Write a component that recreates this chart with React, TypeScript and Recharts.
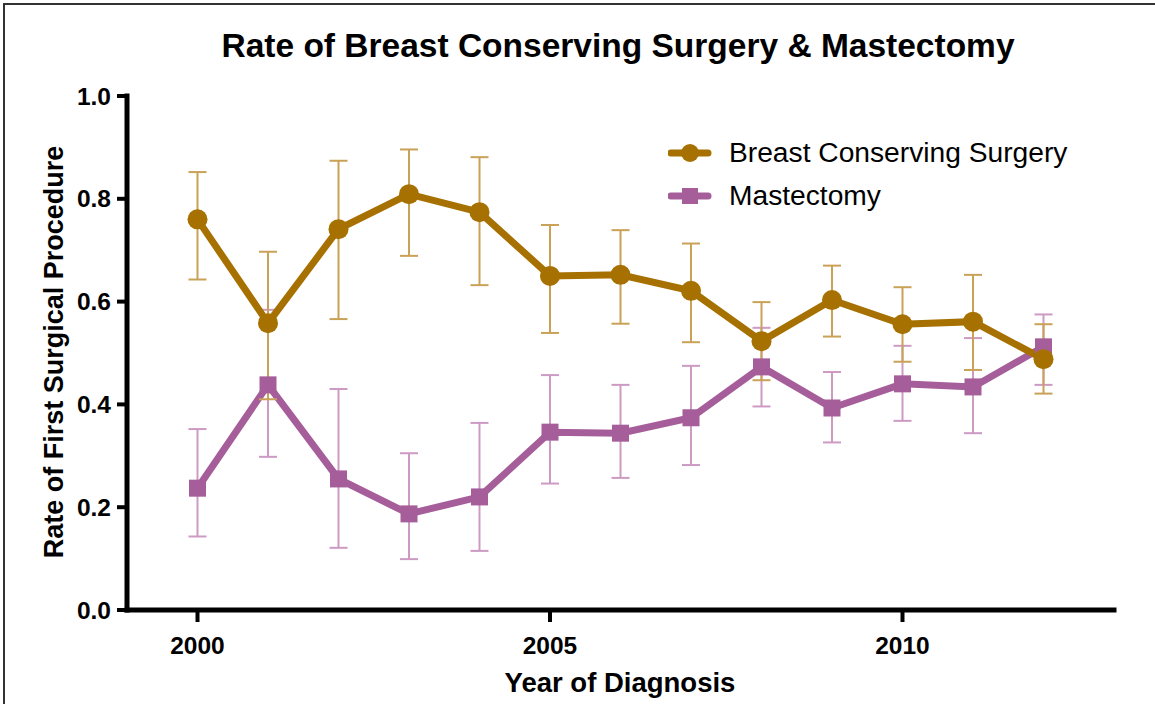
import React from 'react';
import { LineChart, Line, XAxis, YAxis, ErrorBar, Legend } from 'recharts';

const FONT = "'Liberation Sans', Arial, Helvetica, sans-serif";
const GOLD = '#a67100';
const PURPLE = '#a65e9b';

const years = [2000, 2001, 2002, 2003, 2004, 2005, 2006, 2007, 2008, 2009, 2010, 2011, 2012];

// breast conserving surgery: rate with lower / upper bounds
const bcsRate = [0.76, 0.558, 0.741, 0.809, 0.774, 0.65, 0.652, 0.621, 0.523, 0.603, 0.556, 0.561, 0.488];
const bcsLow = [0.643, 0.41, 0.566, 0.689, 0.632, 0.539, 0.557, 0.521, 0.447, 0.532, 0.483, 0.467, 0.421];
const bcsHigh = [0.852, 0.697, 0.874, 0.896, 0.881, 0.749, 0.739, 0.713, 0.599, 0.67, 0.628, 0.652, 0.556];

// mastectomy
const mastRate = [0.237, 0.438, 0.255, 0.187, 0.22, 0.346, 0.344, 0.374, 0.473, 0.393, 0.44, 0.434, 0.512];
const mastLow = [0.143, 0.298, 0.121, 0.099, 0.115, 0.246, 0.257, 0.282, 0.396, 0.326, 0.368, 0.344, 0.438];
const mastHigh = [0.352, 0.584, 0.43, 0.305, 0.364, 0.457, 0.438, 0.475, 0.549, 0.463, 0.514, 0.529, 0.575];

const xTicks = [2000, 2005, 2010];
const yTicks = [0, 0.2, 0.4, 0.6, 0.8, 1.0];

const rows = years.map((year, i) => ({
  year,
  bcs: bcsRate[i],
  bcsErr: [bcsRate[i] - bcsLow[i], bcsHigh[i] - bcsRate[i]],
  mast: mastRate[i],
  mastErr: [mastRate[i] - mastLow[i], mastHigh[i] - mastRate[i]],
}));

const legendItems = [
  { name: 'Breast Conserving Surgery', color: GOLD, shape: 'circle' },
  { name: 'Mastectomy', color: PURPLE, shape: 'square' },
];

const renderCircle = (props: any) => {
  const { cx, cy, index } = props;
  if (cx == null || cy == null) return <g key={`c-${index}`} />;
  return <circle key={`c-${index}`} cx={cx} cy={cy} r={10} fill={GOLD} />;
};

const renderSquare = (props: any) => {
  const { cx, cy, index } = props;
  if (cx == null || cy == null) return <g key={`s-${index}`} />;
  return <rect key={`s-${index}`} x={cx - 8.5} y={cy - 8.5} width={17} height={17} fill={PURPLE} />;
};

const renderLegend = () => (
  <div style={{ fontFamily: FONT, fontSize: 28.2, color: '#000', textAlign: 'left' }}>
    {legendItems.map(item => (
      <div key={item.name} style={{ display: 'flex', alignItems: 'center', height: 43 }}>
        <svg width={61} height={24} style={{ flex: 'none' }}>
          <line x1={3} x2={40} y1={12} y2={12} stroke={item.color} strokeWidth={7} strokeLinecap="round" />
          {item.shape === 'circle'
            ? <circle cx={22} cy={12} r={9} fill={item.color} />
            : <rect x={14} y={4} width={16} height={16} fill={item.color} />}
        </svg>
        <span style={{ lineHeight: 1, whiteSpace: 'nowrap' }}>{item.name}</span>
      </div>
    ))}
  </div>
);

const tickStyle = { fontFamily: FONT, fontSize: 24.5, fontWeight: 'bold', fill: '#000' };

export default function App() {
  return (
    <div style={{ position: 'absolute', left: 0, top: 0, width: 1155, height: 704, background: '#fff', overflow: 'hidden' }}>
      <div style={{ position: 'absolute', left: 3, top: 3, right: -4, bottom: -4, borderLeft: '2px solid #333', borderTop: '2px solid #333' }} />
      <LineChart width={1155} height={704} data={rows} margin={{ top: 96, right: 41, bottom: 10, left: 57 }}>
        <XAxis
          dataKey="year"
          type="number"
          domain={[1999, 2013]}
          ticks={xTicks}
          interval={0}
          height={84}
          tickSize={12}
          tickMargin={15}
          tick={tickStyle}
          axisLine={{ stroke: '#000', strokeWidth: 5, strokeLinecap: 'square' }}
          tickLine={{ stroke: '#000', strokeWidth: 4 }}
        />
        <YAxis
          type="number"
          domain={[0, 1]}
          ticks={yTicks}
          interval={0}
          width={70}
          tickSize={10}
          tickMargin={6}
          tick={tickStyle}
          tickFormatter={(v: number) => v.toFixed(1)}
          axisLine={{ stroke: '#000', strokeWidth: 5, strokeLinecap: 'square' }}
          tickLine={{ stroke: '#000', strokeWidth: 4 }}
        />
        <Legend
          layout="horizontal"
          verticalAlign="middle"
          align="center"
          width={440}
          wrapperStyle={{ left: 668, top: 131 }}
          content={renderLegend}
        />
        <Line
          dataKey="mast"
          name="Mastectomy"
          stroke={PURPLE}
          strokeWidth={7}
          dot={renderSquare}
          activeDot={false}
          isAnimationActive={false}
        >
          <ErrorBar dataKey="mastErr" width={9} stroke="#cc9ac3" strokeWidth={2} direction="y" isAnimationActive={false} />
        </Line>
        <Line
          dataKey="bcs"
          name="Breast Conserving Surgery"
          stroke={GOLD}
          strokeWidth={7}
          dot={renderCircle}
          activeDot={false}
          isAnimationActive={false}
        >
          <ErrorBar dataKey="bcsErr" width={9} stroke="#c9a257" strokeWidth={2} direction="y" isAnimationActive={false} />
        </Line>
      </LineChart>
      <svg width={1155} height={704} style={{ position: 'absolute', left: 0, top: 0, pointerEvents: 'none' }}>
        <text x={618} y={57} textAnchor="middle" fontFamily={FONT} fontSize={33.5} fontWeight="bold" fill="#000">
          Rate of Breast Conserving Surgery &amp; Mastectomy
        </text>
        <text x={620} y={692} textAnchor="middle" fontFamily={FONT} fontSize={27.5} fontWeight="bold" fill="#000">
          Year of Diagnosis
        </text>
        <text x={63} y={352} transform="rotate(-90 63 352)" textAnchor="middle" fontFamily={FONT} fontSize={27} fontWeight="bold" fill="#000">
          Rate of First Surgical Procedure
        </text>
      </svg>
    </div>
  );
}
